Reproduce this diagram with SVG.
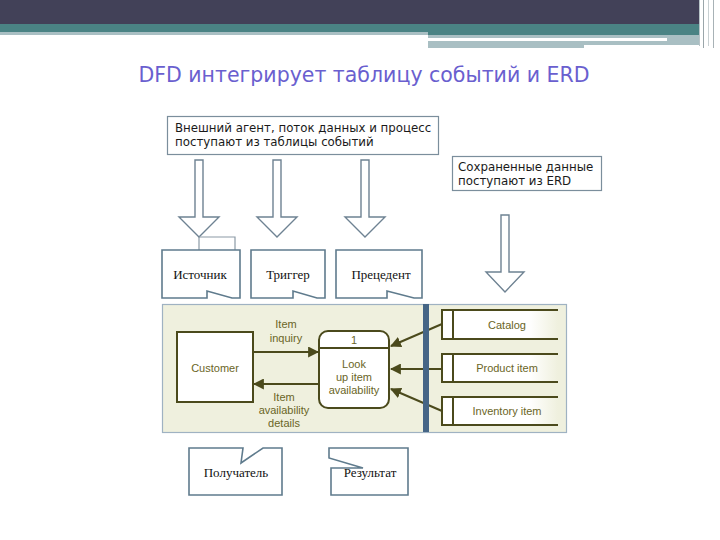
<svg xmlns="http://www.w3.org/2000/svg" width="720" height="540" viewBox="0 0 720 540">
<style>
.title{font-family:"DejaVu Sans",Verdana,sans-serif;font-size:20.5px;fill:#6a5fcf}
.note{font-family:"DejaVu Sans",Verdana,sans-serif;font-size:11.8px;fill:#1a1a1a}
.box{fill:#fff;stroke:#7b8e9c;stroke-width:1.2}
.harrow{fill:#fff;stroke:#6e8292;stroke-width:1.4}
.doc{fill:#fff;stroke:#5f7b8d;stroke-width:1.6}
.serif{font-family:"Liberation Serif","Times New Roman",serif;font-size:13px;fill:#111;text-anchor:middle}
.dfd{font-family:"Liberation Sans",Arial,sans-serif;font-size:11px;fill:#6a6526;text-anchor:middle}
.ol{stroke:#4b4a1c;stroke-width:2;fill:none}
</style>
<defs>
<marker id="ah" viewBox="0 0 10 10" refX="9" refY="5" markerWidth="5.5" markerHeight="5.5" orient="auto">
<path d="M0,0 L10,5 L0,10 Z" fill="#4b4a1c"/>
</marker>
<linearGradient id="sg" x1="0" y1="0" x2="1" y2="0">
<stop offset="0" stop-color="#ffffff"/>
<stop offset="0.75" stop-color="#ffffff"/>
<stop offset="1" stop-color="#eff0de"/>
</linearGradient>
</defs>
<rect width="720" height="540" fill="#fff"/>
<g id="header">
<rect x="0" y="0" width="699" height="24" fill="#424158"/>
<rect x="0" y="24" width="699" height="8" fill="#4a8384"/>
<rect x="0" y="32" width="428" height="3" fill="#a9bfc3"/>
<rect x="428" y="32" width="271" height="3" fill="#4a8384"/>
<rect x="428" y="35" width="271" height="10" fill="#a9bfc3"/>
<rect x="428" y="38" width="239" height="3" fill="#fff"/>
<rect x="428" y="44" width="156" height="4" fill="#a9bfc3"/>
<line x1="699.5" y1="0" x2="699.5" y2="46" stroke="#b8c4c8" stroke-width="1"/>
<line x1="703.5" y1="0" x2="703.5" y2="48" stroke="#9aa6aa" stroke-width="1"/>
<line x1="708.5" y1="0" x2="708.5" y2="46" stroke="#c8d0d2" stroke-width="1"/>
<line x1="713.5" y1="0" x2="713.5" y2="48" stroke="#a8b2b6" stroke-width="1"/>
</g>
<text class="title" x="364" y="82" text-anchor="middle">DFD интегрирует таблицу событий и ERD</text>

<g id="note-events">
<rect class="box" x="167.5" y="116.5" width="271" height="38"/>
<text class="note" x="175" y="132">Внешний агент, поток данных и процесс</text>
<text class="note" x="175" y="146">поступают из таблицы событий</text>
</g>
<g id="note-erd">
<rect class="box" x="452.5" y="156.5" width="149" height="34"/>
<text class="note" x="458" y="171">Сохраненные данные</text>
<text class="note" x="458" y="185">поступают из ERD</text>
</g>

<g id="block-arrows">
<path class="harrow" d="M195,160 H203 V217 H219 L199,237 L179,217 H195 Z"/>
<path class="harrow" d="M273,160 H281 V217 H297 L277,237 L257,217 H273 Z"/>
<path class="harrow" d="M361,160 H369 V217 H385 L365,237 L345,217 H361 Z"/>
<path class="harrow" d="M501,215 H509 V272 H524 L505,292 L486,272 H501 Z"/>
<path d="M199,237 V250 M199,237 H235 V250" fill="none" stroke="#8b9aa6" stroke-width="1.2"/>
</g>

<g id="source">
<path class="doc" d="M162,250 H240 V298 H232 L207,291 V298 H162 Z"/>
<text class="serif" x="200" y="279">Источник</text>
</g>
<g id="trigger">
<path class="doc" d="M251,250 H325 V298 H317 L293,291 V298 H251 Z"/>
<text class="serif" x="288" y="279">Триггер</text>
</g>
<g id="usecase">
<path class="doc" d="M336,250 H422 V298 H414 L387,291 V298 H336 Z"/>
<text class="serif" x="381" y="279">Прецедент</text>
</g>

<g id="dfd-panel">
<rect x="162.5" y="304.5" width="404" height="128" fill="#eff0de" stroke="#9fb2c2" stroke-width="1.2"/>
</g>

<g id="connectors">
<line class="ol" x1="253" y1="352" x2="318" y2="352" marker-end="url(#ah)"/>
<line class="ol" x1="319" y1="384" x2="254" y2="384" marker-end="url(#ah)"/>
<line class="ol" x1="442" y1="324" x2="391" y2="346" marker-end="url(#ah)"/>
<line class="ol" x1="442" y1="369" x2="391" y2="369" marker-end="url(#ah)"/>
<line class="ol" x1="442" y1="411" x2="391" y2="389" marker-end="url(#ah)"/>
<text class="dfd" x="286" y="328">Item</text>
<text class="dfd" x="286" y="342">inquiry</text>
<text class="dfd" x="284" y="401">Item</text>
<text class="dfd" x="284" y="414">availability</text>
<text class="dfd" x="284" y="427">details</text>
</g>

<g id="customer">
<rect x="177" y="332" width="76" height="70" fill="#fff" stroke="#4b4a1c" stroke-width="2"/>
<text class="dfd" x="215" y="372">Customer</text>
</g>
<g id="process">
<rect x="319" y="331" width="70" height="77" rx="9" fill="#fff" stroke="#4b4a1c" stroke-width="2"/>
<line class="ol" x1="319" y1="348" x2="389" y2="348"/>
<text class="dfd" x="354" y="344">1</text>
<text class="dfd" x="354" y="368">Look</text>
<text class="dfd" x="354" y="381">up item</text>
<text class="dfd" x="354" y="394">availability</text>
</g>

<g id="store-bar">
<rect x="423" y="304" width="6" height="128" fill="#456586"/>
</g>
<g id="catalog">
<rect x="442" y="310" width="116" height="29" fill="url(#sg)"/>
<path class="ol" d="M558,310 H442 V339 H558 M453,310 V339"/>
<text class="dfd" x="507" y="329">Catalog</text>
</g>
<g id="product-item">
<rect x="442" y="354" width="116" height="28" fill="url(#sg)"/>
<path class="ol" d="M558,354 H442 V382 H558 M453,354 V382"/>
<text class="dfd" x="507" y="372">Product item</text>
</g>
<g id="inventory-item">
<rect x="442" y="397" width="116" height="28" fill="url(#sg)"/>
<path class="ol" d="M558,397 H442 V425 H558 M453,397 V425"/>
<text class="dfd" x="507" y="415">Inventory item</text>
</g>

<g id="receiver">
<path class="doc" d="M189,448 H243 L241,463 L263,448 H282 V495 H189 Z"/>
<text class="serif" x="236" y="477">Получатель</text>
</g>
<g id="result">
<path class="doc" d="M329,448 H408 V495 H331 V468 H363 L329,458 Z"/>
<text class="serif" x="370" y="477">Результат</text>
</g>
</svg>
